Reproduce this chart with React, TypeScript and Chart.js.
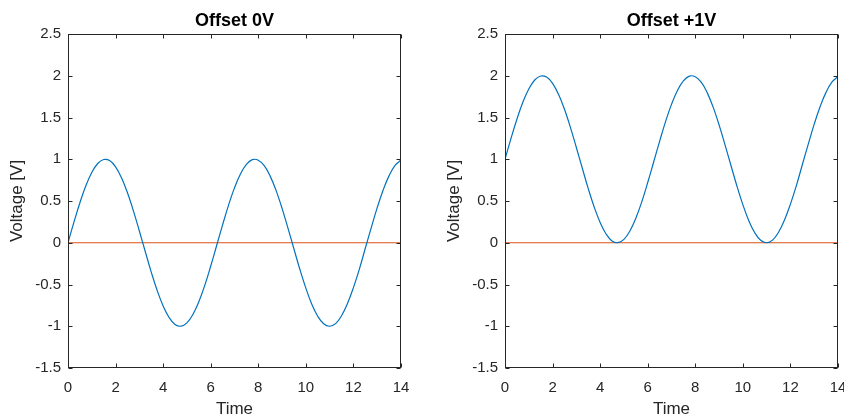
import { useEffect, useRef } from "react";
import { Chart, registerables } from "chart.js";

Chart.register(...registerables);

const timeValues = [
  0, 0.25, 0.5, 0.75, 1, 1.25, 1.5, 1.75, 2, 2.25, 2.5, 2.75, 3, 3.25, 3.5, 3.75,
  4, 4.25, 4.5, 4.75, 5, 5.25, 5.5, 5.75, 6, 6.25, 6.5, 6.75, 7, 7.25, 7.5, 7.75,
  8, 8.25, 8.5, 8.75, 9, 9.25, 9.5, 9.75, 10, 10.25, 10.5, 10.75, 11, 11.25, 11.5,
  11.75, 12, 12.25, 12.5, 12.75, 13, 13.25, 13.5, 13.75, 14,
];

const voltageOffset0 = [
  0, 0.247, 0.479, 0.682, 0.841, 0.949, 0.997, 0.984, 0.909, 0.778, 0.598, 0.382,
  0.141, -0.108, -0.351, -0.572, -0.757, -0.895, -0.978, -0.999, -0.959, -0.859,
  -0.706, -0.51, -0.279, -0.033, 0.215, 0.451, 0.657, 0.823, 0.938, 0.995, 0.989,
  0.923, 0.798, 0.624, 0.412, 0.173, -0.075, -0.32, -0.544, -0.736, -0.88, -0.971,
  -1.0, -0.968, -0.875, -0.728, -0.537, -0.315, -0.066, 0.181, 0.42, 0.632, 0.804,
  0.926, 0.991,
];

const voltageOffset1 = [
  1, 1.247, 1.479, 1.682, 1.841, 1.949, 1.997, 1.984, 1.909, 1.778, 1.598, 1.382,
  1.141, 0.892, 0.649, 0.428, 0.243, 0.105, 0.022, 0.001, 0.041, 0.141, 0.294,
  0.49, 0.721, 0.967, 1.215, 1.451, 1.657, 1.823, 1.938, 1.995, 1.989, 1.923,
  1.798, 1.624, 1.412, 1.173, 0.925, 0.68, 0.456, 0.264, 0.12, 0.029, 0.0, 0.032,
  0.125, 0.272, 0.463, 0.685, 0.934, 1.181, 1.42, 1.632, 1.804, 1.926, 1.991,
];

const zeroTime = [0, 14];
const zeroValues = [0, 0];

const xTickValues = [0, 2, 4, 6, 8, 10, 12, 14];
const yTickValues = [-1.5, -1, -0.5, 0, 0.5, 1, 1.5, 2, 2.5];

const titles = ["Offset 0V", "Offset +1V"];

const FONT = '"Liberation Sans", Arial, Helvetica, sans-serif';
const AXIS_COLOR = "#262626";

const framePlugin = {
  id: "matlabFrame",
  afterDraw(chart: any, _args: any, opts: any) {
    const { ctx, chartArea: a, scales } = chart;
    ctx.save();
    ctx.strokeStyle = AXIS_COLOR;
    ctx.lineWidth = 1;
    const L = Math.round(a.left) + 0.5;
    const R = Math.round(a.right) - 0.5;
    const T = Math.round(a.top) + 0.5;
    const B = Math.round(a.bottom) - 0.5;
    ctx.strokeRect(L, T, R - L, B - T);
    const len = 4;
    ctx.beginPath();
    for (const t of scales.x.ticks) {
      const px = Math.round(scales.x.getPixelForValue(t.value)) + 0.5;
      ctx.moveTo(px, B);
      ctx.lineTo(px, B - len);
      ctx.moveTo(px, T);
      ctx.lineTo(px, T + len);
    }
    for (const t of scales.y.ticks) {
      const py = Math.round(scales.y.getPixelForValue(t.value)) + 0.5;
      ctx.moveTo(L, py);
      ctx.lineTo(L + len, py);
      ctx.moveTo(R, py);
      ctx.lineTo(R - len, py);
    }
    ctx.stroke();
    ctx.fillStyle = "#000";
    ctx.font = `bold 18px ${FONT}`;
    ctx.textAlign = "center";
    ctx.textBaseline = "alphabetic";
    ctx.fillText(opts.text, (a.left + a.right) / 2, a.top - 8);
    ctx.restore();
  },
};

function buildChart(
  canvas: HTMLCanvasElement,
  title: string,
  values: number[],
  yWidth: number,
  padRight: number,
  yTitlePad: number
) {
  return new Chart(canvas, {
    type: "line",
    data: {
      datasets: [
        {
          data: timeValues.map((t, i) => ({ x: t, y: values[i] })),
          borderColor: "#0072BD",
          borderWidth: 1.2,
          pointRadius: 0,
          tension: 0.4,
          fill: false,
        },
        {
          data: zeroTime.map((t, i) => ({ x: t, y: zeroValues[i] })),
          borderColor: "#D95319",
          borderWidth: 1.2,
          pointRadius: 0,
          fill: false,
        },
      ],
    },
    options: {
      animation: false,
      responsive: false,
      maintainAspectRatio: false,
      events: [],
      layout: { padding: { top: 34, left: 0, right: padRight, bottom: 0 } },
      plugins: {
        legend: { display: false },
        tooltip: { enabled: false },
        title: { display: false },
        matlabFrame: { text: title },
      } as any,
      scales: {
        x: {
          type: "linear",
          min: 0,
          max: 14,
          afterBuildTicks(scale: any) {
            scale.ticks = xTickValues.map((v) => ({ value: v }));
          },
          afterFit(scale: any) {
            scale.height = 52;
          },
          grid: { display: false, drawTicks: false },
          border: { display: false },
          ticks: {
            color: AXIS_COLOR,
            font: { family: FONT, size: 15 },
            padding: 11,
            maxRotation: 0,
            autoSkip: false,
            callback: (v: any) => String(v),
          },
          title: {
            display: true,
            text: "Time",
            color: AXIS_COLOR,
            font: { family: FONT, size: 17 },
            padding: { top: 0, bottom: 0 },
          },
        },
        y: {
          type: "linear",
          min: -1.5,
          max: 2.5,
          afterBuildTicks(scale: any) {
            scale.ticks = yTickValues.map((v) => ({ value: v }));
          },
          afterFit(scale: any) {
            scale.width = yWidth;
          },
          grid: { display: false, drawTicks: false },
          border: { display: false },
          ticks: {
            color: AXIS_COLOR,
            font: { family: FONT, size: 15 },
            padding: 7,
            autoSkip: false,
            callback: (v: any) => String(v),
          },
          title: {
            display: true,
            text: "Voltage [V]",
            color: AXIS_COLOR,
            font: { family: FONT, size: 17 },
            padding: { top: yTitlePad, bottom: 0 },
          },
        },
      },
    },
    plugins: [framePlugin],
  } as any);
}

export default function App() {
  const leftRef = useRef<HTMLCanvasElement>(null);
  const rightRef = useRef<HTMLCanvasElement>(null);

  useEffect(() => {
    document.body.style.margin = "0";
    const c1 = buildChart(leftRef.current!, titles[0], voltageOffset0, 68, 29, 7);
    const c2 = buildChart(rightRef.current!, titles[1], voltageOffset1, 83, 24, 22);
    return () => {
      c1.destroy();
      c2.destroy();
    };
  }, []);

  return (
    <div
      style={{
        position: "fixed",
        left: 0,
        top: 0,
        width: 844,
        height: 416,
        overflow: "hidden",
        background: "#fff",
      }}
    >
      <canvas
        ref={leftRef}
        width={430}
        height={420}
        style={{ position: "absolute", left: 0, top: 0, width: 430, height: 420 }}
      />
      <canvas
        ref={rightRef}
        width={440}
        height={420}
        style={{ position: "absolute", left: 422, top: 0, width: 440, height: 420 }}
      />
    </div>
  );
}
